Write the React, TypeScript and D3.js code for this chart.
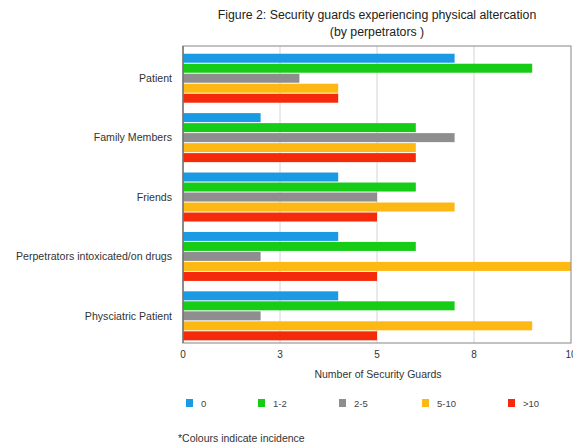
import React from "react";
import * as d3 from "d3";

const categories = [
  "Patient",
  "Family Members",
  "Friends",
  "Perpetrators intoxicated/on drugs",
  "Physciatric Patient",
];
const seriesNames = ["0", "1-2", "2-5", "5-10", ">10"];
const seriesColors = ["#1B9AE4", "#16CC16", "#8E8E8E", "#FDB813", "#F42A0A"];
const values0 = [7, 2, 4, 4, 4];
const values12 = [9, 6, 6, 6, 7];
const values25 = [3, 7, 5, 2, 2];
const values510 = [4, 6, 7, 10, 9];
const values10p = [4, 6, 5, 5, 5];
const seriesValues = [values0, values12, values25, values510, values10p];
const tickValues = [0, 2.5, 5, 7.5, 10];

const W = 573;
const H = 448;
const left = 183;
const right = 571;
const top = 46;
const bottom = 343;

export default function App() {
  const x = d3.scaleLinear().domain([0, 10]).range([left, right]);
  const y = d3.scaleBand<string>().domain(categories).range([top, bottom]);
  const bw = y.bandwidth();
  const inner = d3
    .scaleBand<string>()
    .domain(seriesNames)
    .range([bw * 0.13, bw * 0.955])
    .paddingInner(0.1);
  const fmt = d3.format(".0f");
  const font = "Liberation Sans, Arial, sans-serif";
  const legendX = [186, 258, 339, 422, 508];

  return (
    <svg
      width={W}
      height={H}
      style={{ position: "absolute", left: 0, top: 0, background: "#fff" }}
      fontFamily={font}
    >
      <text x={377} y={19} textAnchor="middle" fontSize={12.3} fill="#222">
        Figure 2: Security guards experiencing physical altercation
      </text>
      <text x={377} y={36} textAnchor="middle" fontSize={12.3} fill="#222">
        (by perpetrators )
      </text>
      {tickValues.slice(1, -1).map((t) => (
        <line key={t} x1={x(t)} x2={x(t)} y1={top} y2={bottom} stroke="#d4d4d4" strokeWidth={1} />
      ))}
      {categories.map((c, ci) => (
        <g key={c}>
          {seriesNames.map((s, si) => (
            <rect
              key={s}
              x={x(0)}
              y={(y(c) as number) + (inner(s) as number)}
              width={x(seriesValues[si][ci]) - x(0)}
              height={inner.bandwidth()}
              fill={seriesColors[si]}
            />
          ))}
          <text
            x={172}
            y={(y(c) as number) + (inner("2-5") as number) + inner.bandwidth() / 2}
            dy="0.35em"
            textAnchor="end"
            fontSize={10.6}
            fill="#333"
          >
            {c}
          </text>
        </g>
      ))}
      <rect x={left} y={top} width={right - left} height={bottom - top} fill="none" stroke="#9a9a9a" strokeWidth={1.2} />
      <line x1={left} x2={left} y1={top} y2={bottom} stroke="#666" strokeWidth={1.2} />
      {tickValues.map((t) => (
        <text key={t} x={x(t)} y={358} textAnchor="middle" fontSize={10} fill="#333">
          {fmt(t)}
        </text>
      ))}
      <text x={378} y={378} textAnchor="middle" fontSize={10.5} fill="#333">
        Number of Security Guards
      </text>
      {seriesNames.map((s, i) => (
        <g key={s}>
          <rect x={legendX[i]} y={399} width={7} height={8} fill={seriesColors[i]} />
          <text x={legendX[i] + 15} y={407} fontSize={9.5} fill="#444">
            {s}
          </text>
        </g>
      ))}
      <text x={178} y={442} fontSize={10.5} fill="#333">
        *Colours indicate incidence
      </text>
    </svg>
  );
}
